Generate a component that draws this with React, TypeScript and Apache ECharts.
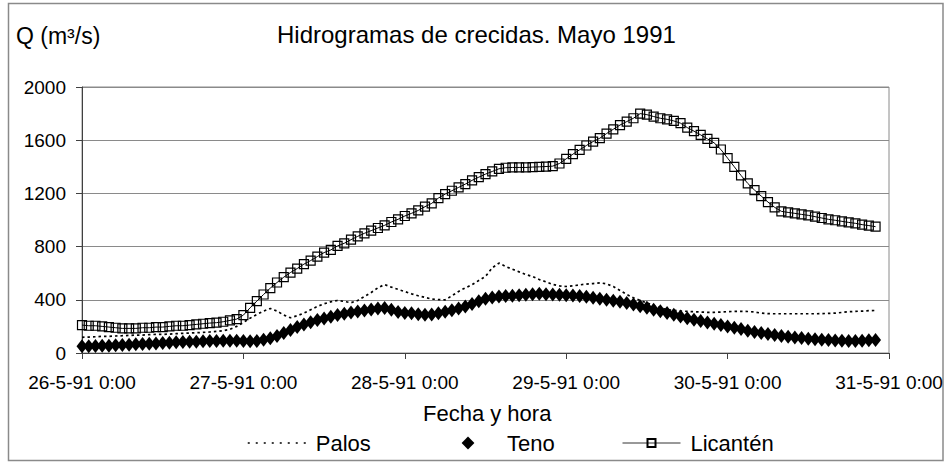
import React, { useEffect, useRef } from 'react';
import * as echarts from 'echarts';

const DAY_LABELS = ['26-5-91', '27-5-91', '28-5-91', '29-5-91', '30-5-91', '31-5-91'];
const HOURS_PER_DAY = 24;
const CATEGORIES: string[] = [];
for (let d = 0; d < DAY_LABELS.length; d++) {
  for (let h = 0; h < HOURS_PER_DAY; h++) {
    if (d === DAY_LABELS.length - 1 && h > 0) break;
    CATEGORIES.push(`${DAY_LABELS[d]} ${h}:00`);
  }
}

const SERIES_NAMES = ['Palos', 'Teno', 'Licantén'];

const PALOS = [
  118, 120, 122, 125, 125, 128, 130, 132, 135, 135,
  138, 140, 140, 142, 145, 148, 150, 152, 155, 158,
  162, 168, 178, 200, 230, 262, 290, 315, 335, 315,
  285, 265, 280, 300, 325, 350, 370, 385, 395, 388,
  378, 395, 425, 455, 490, 515, 495, 478, 462, 445,
  430, 418, 406, 402, 400, 430, 463, 490, 513, 545,
  576, 640, 676, 650, 630, 610, 590, 575, 552, 535,
  515, 505, 500, 505, 512, 518, 522, 528, 520, 500,
  470, 440, 415, 395, 376, 358, 340, 326, 320, 316,
  313, 310, 308, 306, 306, 308, 311, 313, 313, 312,
  308, 300, 296, 295, 295, 295, 295, 295, 295, 295,
  296, 298, 300, 305, 310, 313, 315, 318, 320,
];

const TENO = [
  50, 50, 52, 55, 55, 58, 60, 62, 65, 68,
  70, 72, 75, 78, 80, 82, 85, 85, 88, 90,
  90, 92, 92, 92, 90, 88, 90, 100, 110, 128,
  150, 172, 195, 215, 232, 248, 260, 272, 285, 295,
  305, 312, 320, 328, 335, 338, 325, 308, 300, 298,
  292, 288, 290, 298, 310, 322, 335, 350, 368, 390,
  408, 418, 425, 428, 430, 435, 438, 442, 445, 442,
  440, 438, 435, 432, 428, 422, 415, 408, 400, 392,
  385, 376, 365, 352, 340, 326, 313, 300, 287, 275,
  262, 250, 240, 230, 220, 210, 200, 190, 180, 168,
  158, 150, 142, 135, 128, 122, 117, 112, 108, 104,
  100, 97, 94, 92, 90, 90, 92, 95, 98,
];

const LICANTEN = [
  210, 205, 205, 200, 195, 190, 185, 185, 185, 190,
  190, 195, 195, 200, 205, 205, 210, 215, 220, 225,
  228, 235, 245, 255, 285, 340, 390, 440, 488, 530,
  570, 605, 635, 668, 695, 725, 755, 775, 805, 825,
  852, 877, 900, 920, 940, 960, 985, 1005, 1030, 1050,
  1072, 1100, 1125, 1165, 1195, 1220, 1245, 1270, 1298, 1322,
  1345, 1365, 1385, 1393, 1395, 1395, 1395, 1398, 1400, 1402,
  1405, 1425, 1460, 1495, 1528, 1560, 1590, 1615, 1650, 1682,
  1714, 1740, 1765, 1800, 1792, 1778, 1765, 1757, 1745, 1728,
  1695, 1668, 1640, 1610, 1580, 1530, 1465, 1400, 1335, 1275,
  1225, 1180, 1135, 1095, 1065, 1057, 1050, 1042, 1035, 1025,
  1015, 1005, 998, 990, 982, 975, 965, 958, 950,
];

const Y_MIN = 0;
const Y_MAX = 2000;
const Y_STEP = 400;

const TITLE = 'Hidrogramas de crecidas. Mayo 1991';
const Y_NAME = 'Q (m³/s)';
const X_NAME = 'Fecha y hora';

const FONT = '"Liberation Sans", Arial, sans-serif';
const GRID_COLOR = '#8a8a8a';
const AXIS_COLOR = '#404040';

export default function App() {
  const ref = useRef<HTMLDivElement>(null);

  useEffect(() => {
    if (!ref.current) return;
    const chart = echarts.init(ref.current, null, { renderer: 'svg' });
    const legendBase = {
      orient: 'horizontal',
      top: 432,
      padding: 0,
      itemWidth: 58,
      textStyle: { fontSize: 22, color: '#000', fontFamily: FONT, padding: [0, 0, 0, 5] },
      selectedMode: false,
    };
    chart.setOption({
      animation: false,
      backgroundColor: '#fff',
      textStyle: { fontFamily: FONT, color: '#000' },
      grid: {
        left: 82,
        right: 58,
        top: 87,
        bottom: 109,
        show: true,
        borderColor: GRID_COLOR,
        borderWidth: 1,
        backgroundColor: 'transparent',
      },
      xAxis: {
        type: 'category',
        data: CATEGORIES,
        boundaryGap: false,
        axisLine: { show: true, lineStyle: { color: AXIS_COLOR, width: 1 } },
        axisTick: { show: true, interval: 23, length: 6, lineStyle: { color: AXIS_COLOR } },
        axisLabel: {
          interval: 23,
          margin: 20,
          fontSize: 19,
          color: '#000',
          fontFamily: FONT,
          formatter: (v: string) => v,
        },
        splitLine: { show: false },
      },
      yAxis: {
        type: 'value',
        min: Y_MIN,
        max: Y_MAX,
        interval: Y_STEP,
        axisLine: { show: true, lineStyle: { color: AXIS_COLOR, width: 1 } },
        axisTick: { show: true, length: 6, lineStyle: { color: AXIS_COLOR } },
        axisLabel: {
          margin: 16,
          fontSize: 19,
          color: '#000',
          fontFamily: FONT,
          formatter: (v: number) => String(v),
        },
        splitLine: { show: true, lineStyle: { color: GRID_COLOR, width: 1 } },
      },
      legend: [
        {
          ...legendBase,
          left: 247,
          itemHeight: 10,
          data: [SERIES_NAMES[0]],
          itemStyle: { opacity: 0 },
          lineStyle: { type: [2, 6], width: 1.5, color: '#000' },
        },
        {
          ...legendBase,
          left: 439,
          itemHeight: 16,
          data: [SERIES_NAMES[1]],
        },
        {
          ...legendBase,
          left: 622,
          itemHeight: 10,
          data: [SERIES_NAMES[2]],
          lineStyle: { width: 1, color: '#333' },
        },
      ],
      series: [
        {
          name: SERIES_NAMES[0],
          type: 'line',
          data: PALOS,
          symbol: 'none',
          showSymbol: false,
          lineStyle: { color: '#000', width: 1.7, type: [2.5, 3] },
          itemStyle: { color: '#000' },
          z: 2,
        },
        {
          name: SERIES_NAMES[1],
          type: 'line',
          data: TENO,
          symbol: 'diamond',
          symbolSize: [11, 14],
          showSymbol: true,
          showAllSymbol: true,
          lineStyle: { width: 0, opacity: 0 },
          itemStyle: { color: '#000' },
          z: 3,
        },
        {
          name: SERIES_NAMES[2],
          type: 'line',
          data: LICANTEN,
          symbol: 'rect',
          symbolSize: 9,
          showSymbol: true,
          showAllSymbol: true,
          lineStyle: { color: '#000', width: 1 },
          itemStyle: { color: 'rgba(0,0,0,0)', borderColor: '#000', borderWidth: 1.2 },
          z: 4,
        },
      ],
      graphic: [
        {
          type: 'rect',
          silent: true,
          shape: { x: 8.5, y: 3.5, width: 934.5, height: 457 },
          style: { fill: 'none', stroke: GRID_COLOR, lineWidth: 1.5 },
        },
        {
          type: 'text',
          x: 277,
          y: 34.5,
          style: {
            text: TITLE,
            fontSize: 24,
            fontFamily: FONT,
            fill: '#000',
            textAlign: 'left',
            textVerticalAlign: 'middle',
            verticalAlign: 'middle',
          },
        },
        {
          type: 'text',
          x: 16,
          y: 36,
          style: {
            text: Y_NAME,
            fontSize: 23,
            fontFamily: FONT,
            fill: '#000',
            textAlign: 'left',
            textVerticalAlign: 'middle',
            verticalAlign: 'middle',
          },
        },
        {
          type: 'text',
          x: 423,
          y: 413,
          style: {
            text: X_NAME,
            fontSize: 22,
            fontFamily: FONT,
            fill: '#000',
            textAlign: 'left',
            textVerticalAlign: 'middle',
            verticalAlign: 'middle',
          },
        },
      ],
    });
    return () => chart.dispose();
  }, []);

  return (
    <div
      ref={ref}
      style={{ position: 'fixed', left: 0, top: 0, width: 947, height: 462, background: '#fff' }}
    />
  );
}
